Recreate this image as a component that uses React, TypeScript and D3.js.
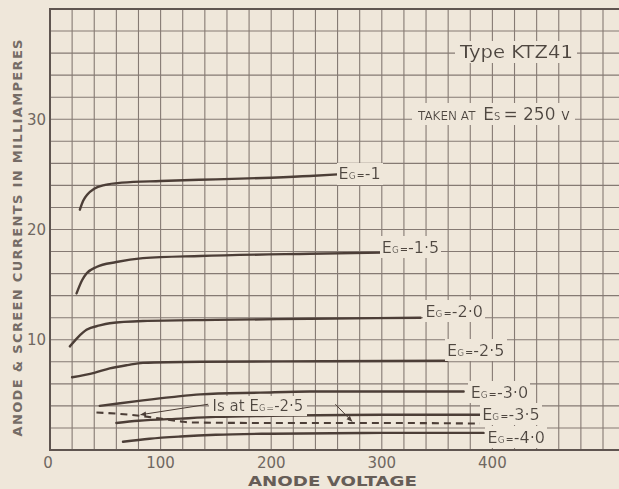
import React from "react";
import * as d3 from "d3";

const W = 619;
const H = 489;

// axis domains & tick labels
const xDomain = [0, 500];
const yDomain = [0, 40];
const xTickLabels = [0, 100, 200, 300, 400];
const yTickLabels = [10, 20, 30];
const xGridStep = 20;
const yGridStep = 2;

// anode current curves [anode volts, mA]
const eg10: [number, number][] = [[27, 21.8], [30, 22.6], [34, 23.2], [40, 23.7], [50, 24.05], [65, 24.25], [100, 24.4], [150, 24.55], [200, 24.7], [235, 24.85], [260, 25.0]];
const eg15: [number, number][] = [[24, 14.2], [29, 15.4], [33, 16.0], [42, 16.6], [60, 17.05], [84, 17.4], [136, 17.6], [235, 17.8], [300, 17.9]];
const eg20: [number, number][] = [[18, 9.4], [25, 10.2], [33, 10.9], [45, 11.3], [54, 11.5], [84, 11.7], [150, 11.8], [235, 11.9], [335, 12.0]];
const eg25: [number, number][] = [[20, 6.6], [40, 7.0], [54, 7.4], [70, 7.7], [84, 7.9], [136, 8.0], [250, 8.05], [359, 8.1]];
const eg30: [number, number][] = [[45, 4.0], [60, 4.2], [84, 4.5], [110, 4.8], [136, 5.05], [190, 5.2], [235, 5.3], [374, 5.3]];
const eg35: [number, number][] = [[60, 2.45], [80, 2.65], [118, 2.85], [150, 3.0], [200, 3.1], [300, 3.2], [389, 3.2]];
const eg40: [number, number][] = [[66, 0.75], [90, 1.02], [118, 1.22], [150, 1.38], [200, 1.48], [300, 1.55], [392, 1.55]];
// screen current at Eg = -2.5 (dashed)
const screenEg25: [number, number][] = [[42, 3.4], [60, 3.3], [81, 3.1], [100, 2.85], [118, 2.6], [127, 2.5], [200, 2.45], [300, 2.45], [389, 2.4]];

const curveSeries = [eg10, eg15, eg20, eg25, eg30, eg35, eg40];
const curveLabels = ["-1", "-1·5", "-2·0", "-2·5", "-3·0", "-3·5", "-4·0"];
// label placement offsets (px) from curve end
const labelOffsets = [[1, 5], [0, 0], [5, -1], [0, -5], [7, 6], [2, 5], [4, 10]];

const BG = "#efe7da";
const GRID = "#857a73";
const INK = "#4c3e37";
const TEXT = "#4f4640";
const LIGHT = "#6f6761";
const FONT = "DejaVu Sans, sans-serif";

export default function App() {
  const x = d3.scaleLinear().domain(xDomain).range([50, 603]);
  const y = d3.scaleLinear().domain(yDomain).range([450, 9]);
  const line = d3
    .line<[number, number]>()
    .x((d) => x(d[0]))
    .y((d) => y(d[1]))
    .curve(d3.curveMonotoneX);

  const vGrid = d3.range(xDomain[0], xDomain[1] + 1, xGridStep);
  const hGrid = d3.range(yDomain[0], yDomain[1] + 1, yGridStep);

  const egLabel = (val: string, size = 16) => [
    <tspan key="e">E</tspan>,
    <tspan key="g" fontSize={size * 0.55}>G</tspan>,
    <tspan key="eq" fontSize={size * 0.62} dx={1}>=</tspan>,
    <tspan key="v">{val}</tspan>,
  ];

  return (
    <svg width={W} height={H} style={{ position: "absolute", left: 0, top: 0 }} fontFamily={FONT}>
      <defs>
        <filter id="bg" x="-0.03" y="-0.05" width="1.06" height="1.1">
          <feFlood floodColor={BG} result="f" />
          <feMerge>
            <feMergeNode in="f" />
            <feMergeNode in="SourceGraphic" />
          </feMerge>
        </filter>
        <marker id="arr" viewBox="0 0 10 10" refX="9" refY="5" markerWidth="6" markerHeight="6" orient="auto">
          <path d="M0,1 L10,5 L0,9 Z" fill={INK} />
        </marker>
      </defs>
      <rect x={0} y={0} width={W} height={H} fill={BG} />

      {/* grid */}
      <g stroke={GRID} strokeWidth={1.1}>
        {vGrid.map((v) => (
          <line key={"v" + v} x1={x(v)} x2={x(v)} y1={y(yDomain[1])} y2={y(0)} />
        ))}
        {hGrid.map((v) => (
          <line key={"h" + v} x1={x(0)} x2={W} y1={y(v)} y2={y(v)} />
        ))}
      </g>
      <g stroke="#5f5550" strokeWidth={2}>
        <line x1={x(0)} x2={x(0)} y1={y(yDomain[1]) - 1} y2={y(0) + 1} />
        <line x1={x(0)} x2={W} y1={y(0)} y2={y(0)} />
        <line x1={x(0)} x2={W} y1={y(yDomain[1])} y2={y(yDomain[1])} />
      </g>

      {/* curves */}
      <g fill="none" stroke={INK} strokeWidth={2.4} strokeLinecap="round">
        {curveSeries.map((s, i) => (
          <path key={i} d={line(s) || ""} />
        ))}
        <path d={line(screenEg25) || ""} strokeWidth={2.1} strokeDasharray="7 5" strokeLinecap="butt" />
      </g>

      {/* curve labels */}
      <g fill={TEXT} fontSize={16}>
        {curveSeries.map((s, i) => {
          const last = s[s.length - 1];
          return (
            <text key={i} x={x(last[0]) + labelOffsets[i][0]} y={y(last[1]) + labelOffsets[i][1]} filter="url(#bg)">
              {egLabel(curveLabels[i])}
            </text>
          );
        })}
      </g>

      {/* Is annotation */}
      <g stroke={INK} strokeWidth={1} fill="none">
        <line x1={x(143)} y1={y(4.15)} x2={x(82)} y2={y(3.2)} markerEnd="url(#arr)" />
        <line x1={x(258)} y1={y(4.15)} x2={x(273)} y2={y(2.6)} markerEnd="url(#arr)" />
      </g>
      <text x={x(147)} y={y(3.54)} fontSize={15} fill={TEXT} filter="url(#bg)">
        <tspan>Is at </tspan>
        {egLabel("-2·5", 15)}
      </text>

      {/* title annotations */}
      <text x={460} y={58} fontSize={17} fill={TEXT} textLength={113} lengthAdjust="spacingAndGlyphs" filter="url(#bg)">
        Type KTZ41
      </text>
      <text x={418} y={120} fill={TEXT} filter="url(#bg)" fontSize={17}>
        <tspan fontSize={12}>TAKEN AT </tspan>
        <tspan dx={4}>E</tspan>
        <tspan fontSize={10}>S</tspan>
        <tspan dx={3}>= 250 </tspan>
        <tspan fontSize={15}>v</tspan>
      </text>

      {/* tick labels */}
      <g fill={LIGHT} fontSize={15} textAnchor="middle">
        {xTickLabels.map((v) => (
          <text key={v} x={x(v) - (v === 0 ? 2 : 0)} y={468}>
            {v}
          </text>
        ))}
      </g>
      <g fill={LIGHT} fontSize={15} textAnchor="end">
        {yTickLabels.map((v) => (
          <text key={v} x={46} y={y(v) + 5.5}>
            {v}
          </text>
        ))}
      </g>

      {/* axis titles */}
      <text x={248} y={486} fontSize={14} fontWeight="bold" fill="#665d57" textLength={169} lengthAdjust="spacingAndGlyphs">
        ANODE VOLTAGE
      </text>
      <text
        transform="translate(22,238) rotate(-90)"
        textAnchor="middle"
        fontSize={13}
        fontWeight="bold"
        fill="#756c66"
        textLength={397}
        lengthAdjust="spacing"
      >
        ANODE &amp; SCREEN CURRENTS IN MILLIAMPERES
      </text>
    </svg>
  );
}
